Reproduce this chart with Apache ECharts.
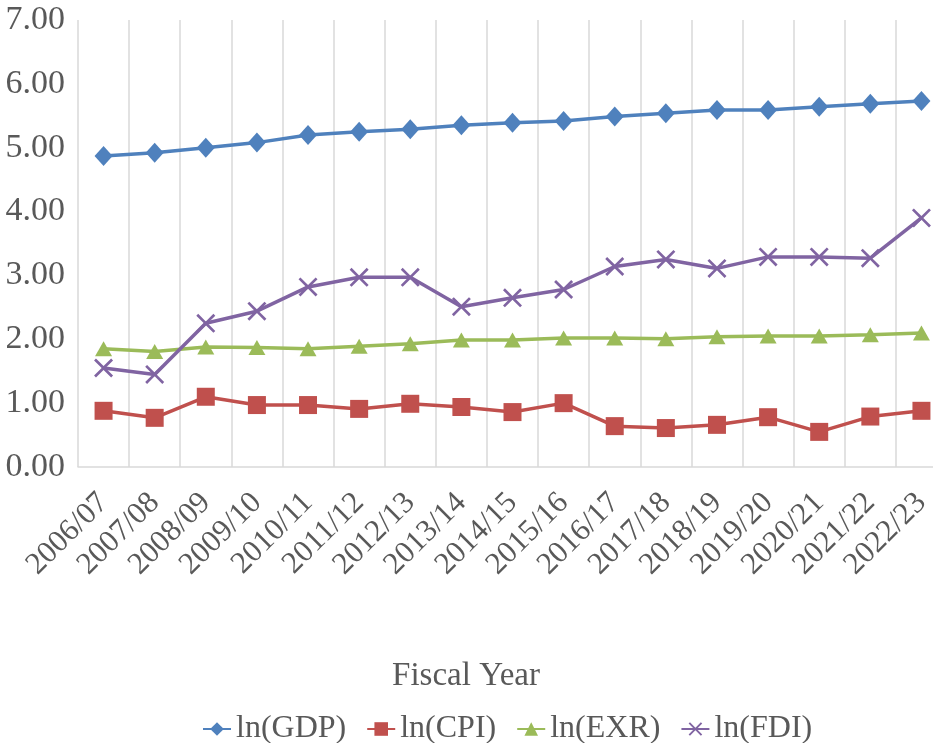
<!DOCTYPE html>
<html>
<head>
<meta charset="utf-8">
<script src="https://cdn.jsdelivr.net/npm/echarts@6/dist/echarts.min.js"></script>
<style>html,body{margin:0;padding:0;background:#fff}#c{width:933px;height:743px}</style>
</head>
<body>
<div id="c"></div>
<script>
var categories = ['2006/07','2007/08','2008/09','2009/10','2010/11','2011/12','2012/13','2013/14','2014/15','2015/16','2016/17','2017/18','2018/19','2019/20','2020/21','2021/22','2022/23'];
var lnGDP = [4.87,4.92,5.00,5.08,5.20,5.25,5.29,5.35,5.39,5.42,5.49,5.54,5.59,5.59,5.64,5.69,5.73];
var lnCPI = [0.88,0.77,1.10,0.97,0.97,0.91,0.99,0.94,0.86,1.00,0.64,0.61,0.66,0.78,0.55,0.79,0.88];
var lnEXR = [1.85,1.81,1.88,1.87,1.85,1.89,1.93,1.99,1.99,2.02,2.02,2.01,2.04,2.05,2.05,2.07,2.10];
var lnFDI = [1.55,1.45,2.25,2.44,2.82,2.97,2.97,2.51,2.65,2.78,3.14,3.25,3.11,3.29,3.29,3.27,3.90];
var yTicks = [0,1,2,3,4,5,6,7];

var FONT = '"Liberation Serif","Times New Roman",serif';
var TXT = '#595959';
var xMark = 'path://M2,0L10,8L18,0L20,2L12,10L20,18L18,20L10,12L2,20L0,18L8,10L0,2Z';

var chart = echarts.init(document.getElementById('c'), null, {renderer:'canvas'});
chart.setOption({
  animation:false,
  backgroundColor:'#ffffff',
  grid:{left:78, width:869, top:20, height:447, outerBoundsMode:'none', containLabel:false},
  legend:{
    left:197, top:708, itemGap:20, itemWidth:28, itemHeight:17,
    textStyle:{fontFamily:FONT, fontSize:32, color:TXT},
    data:['ln(GDP)','ln(CPI)','ln(EXR)','ln(FDI)']
  },
  graphic:[{type:'text', x:466, y:676, style:{text:'Fiscal Year', font:'33px ' + FONT, fill:TXT, align:'center', verticalAlign:'middle'}}],
  xAxis:{
    type:'category', data:categories, boundaryGap:true,
    axisLine:{show:true, lineStyle:{color:'#d9d9d9', width:1.5}},
    axisTick:{show:false},
    splitLine:{show:true, lineStyle:{color:'#d9d9d9', width:1.5}},
    axisLabel:{rotate:45, interval:0, margin:31, fontFamily:FONT, fontSize:31, color:TXT}
  },
  yAxis:{
    type:'value', min:yTicks[0], max:yTicks[yTicks.length-1], interval:1,
    axisLine:{show:false}, axisTick:{show:false}, splitLine:{show:false},
    axisLabel:{margin:13, fontFamily:FONT, fontSize:34, color:TXT, formatter:function(v){return v.toFixed(2);}}
  },
  series:[
    {name:'ln(GDP)', type:'line', data:lnGDP, symbol:'diamond', symbolSize:[18,20], lineStyle:{width:3.5, color:'#4F81BD'}, itemStyle:{color:'#4F81BD'}},
    {name:'ln(CPI)', type:'line', data:lnCPI, symbol:'rect', symbolSize:18, lineStyle:{width:3.5, color:'#C0504D'}, itemStyle:{color:'#C0504D'}},
    {name:'ln(EXR)', type:'line', data:lnEXR, symbol:'triangle', symbolSize:[17,15], lineStyle:{width:3.5, color:'#9BBB59'}, itemStyle:{color:'#9BBB59'}},
    {name:'ln(FDI)', type:'line', data:lnFDI, symbol:xMark, symbolSize:19, lineStyle:{width:3.5, color:'#8064A2'}, itemStyle:{color:'#8064A2'}}
  ]
});
</script>
</body>
</html>
